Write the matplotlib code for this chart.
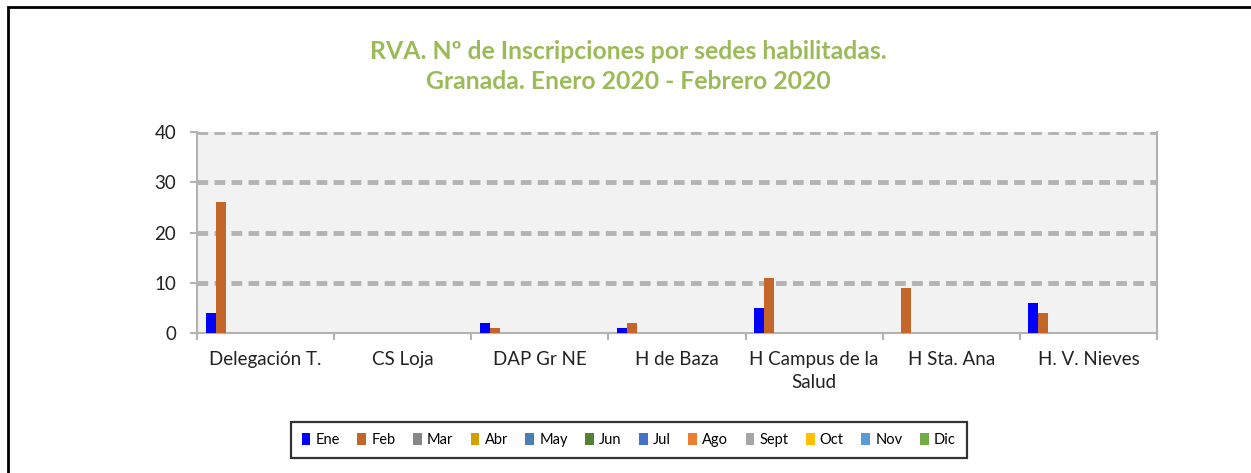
import matplotlib.pyplot as plt
import numpy as np
from matplotlib.patches import Rectangle

plt.rcParams['font.family'] = ['Lato', 'DejaVu Sans']

sedes = ['Delegación T.', 'CS Loja', 'DAP Gr NE', 'H de Baza',
         'H Campus de la\nSalud', 'H Sta. Ana', 'H. V. Nieves']
meses = ['Ene', 'Feb', 'Mar', 'Abr', 'May', 'Jun',
         'Jul', 'Ago', 'Sept', 'Oct', 'Nov', 'Dic']
colores = ['#0000FF', '#C4652A', '#878787', '#D59F00', '#4A7FAF', '#538135',
           '#4472C4', '#ED7D31', '#A5A5A5', '#FFC000', '#5B9BD5', '#70AD47']

ene = [4, 0, 2, 1, 5, 0, 6]
feb = [26, 0, 1, 2, 11, 9, 4]
vacio = [0, 0, 0, 0, 0, 0, 0]
valores = [ene, feb] + [vacio] * 10

fig = plt.figure(figsize=(12.51, 4.73), dpi=100)
ax = fig.add_axes([0.1575, 0.296, 0.7674, 0.4249])
ax.set_facecolor('#F2F2F2')

x = np.arange(len(sedes))
w = 10 / 137
for j, (mes, col) in enumerate(zip(meses, colores)):
    ax.bar(x + (j - 5.5) * w, valores[j], width=w, color=col, label=mes, zorder=3)

ax.set_xlim(-0.5, len(sedes) - 0.5)
ax.set_ylim(0, 40)
ax.set_yticks([0, 10, 20, 30, 40])
ax.set_xticks(x)
ax.set_xticklabels(sedes, fontsize=13.5, color='#222222', linespacing=1.45)
ax.tick_params(axis='x', length=0, pad=13)
ax.tick_params(axis='y', length=5, color='#B3B3B3', width=1.5, labelsize=13.5,
               labelcolor='#222222', pad=10)
# separadores de categorías
ax.set_xticks(np.arange(len(sedes) + 1) - 0.5, minor=True)
ax.tick_params(axis='x', which='minor', length=5, color='#B3B3B3', width=1.5)

for yv in [10, 20, 30, 40]:
    ax.axhline(yv, color='#B3B3B3', lw=3.5, linestyle=(0, (2.2, 1.3)), zorder=2)

for s in ['left', 'right', 'bottom']:
    ax.spines[s].set_color('#B3B3B3')
    ax.spines[s].set_linewidth(1.5)
ax.spines['top'].set_visible(False)

fig.text(0.5025, 0.86, 'RVA. Nº de Inscripciones por sedes habilitadas.\nGranada. Enero 2020 - Febrero 2020',
         ha='center', va='center', fontsize=17.8, fontweight='bold', color='#9BBB59',
         linespacing=1.35)

leg = fig.legend(loc='center', bbox_to_anchor=(0.5025, 0.069), ncol=12, fontsize=10.5,
                 frameon=True, fancybox=False, edgecolor='black', handlelength=0.6,
                 handleheight=0.9, handletextpad=0.35, columnspacing=1.2,
                 borderpad=0.75)
leg.get_frame().set_linewidth(1.6)

# borde exterior
fig.patches.append(Rectangle((8 / 1251, -0.1), 1.2, 1.1 - 7 / 473, transform=fig.transFigure,
                             fill=False, edgecolor='black', lw=2))

fig.savefig('out.png', dpi=100)
